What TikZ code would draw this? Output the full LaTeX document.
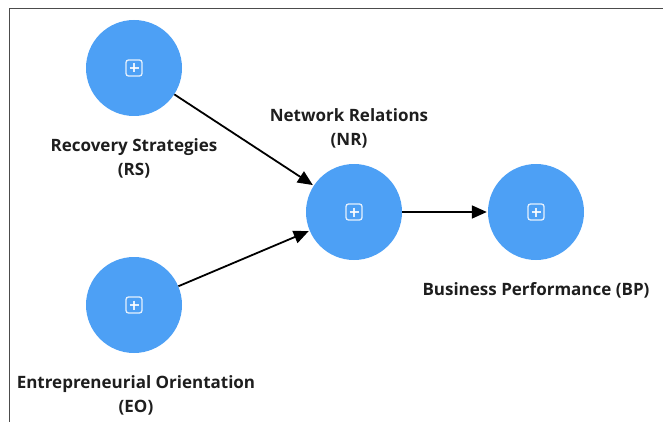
\documentclass[tikz,border=0pt]{standalone}
\usepackage{fontspec}
\setmainfont{Open Sans}
\usetikzlibrary{arrows.meta,calc}
\definecolor{bubble}{RGB}{77,160,245}
\definecolor{inkgray}{RGB}{30,30,30}
\tikzset{
  construct/.style={circle, fill=bubble, draw=none, minimum size=96pt, inner sep=0pt},
  caption/.style={font=\bfseries\fontsize{17}{24}\selectfont, text=inkgray, align=center, inner sep=0pt},
  link/.style={line width=1.8pt, draw=black, -{Triangle[length=15pt,width=13pt]}, shorten >=1pt},
  expander/.style={draw=white, draw opacity=0.85, line width=1.3pt, rounded corners=2.5pt}
}
\newcommand{\expandicon}[1]{%
  \draw[expander] ($(#1)+(-8,-8)$) rectangle ($(#1)+(8,8)$);
  \draw[expander] ($(#1)+(-4.5,0)$) -- ($(#1)+(4.5,0)$);
  \draw[expander] ($(#1)+(0,-4.5)$) -- ($(#1)+(0,4.5)$);
}
\begin{document}
\begin{tikzpicture}[x=1pt,y=-1pt]
  \useasboundingbox (0,0) rectangle (663,422);
  % frame edges
  \draw[line width=1pt, draw=black!70] (9,422) |- (663,9);

  % constructs
  \node[construct] (RS) at (134,68) {};
  \node[construct] (EO) at (134,305) {};
  \node[construct] (NR) at (354,212) {};
  \node[construct] (BP) at (536,212) {};

  \expandicon{RS}
  \expandicon{EO}
  \expandicon{NR}
  \expandicon{BP}

  % labels
  \node[caption] (RSlab) at (134,158) {Recovery Strategies\\(RS)};
  \node[caption] (NRlab) at (349,128) {Network Relations\\(NR)};
  \node[caption] (EOlab) at (136,395) {Entrepreneurial Orientation\\(EO)};
  \node[caption] (BPlab) at (536,290) {Business Performance (BP)};

  % paths
  \draw[link] (RS) -- (NR);
  \draw[link] (EO) -- (NR);
  \draw[link] (NR) -- (BP);
\end{tikzpicture}
\end{document}
